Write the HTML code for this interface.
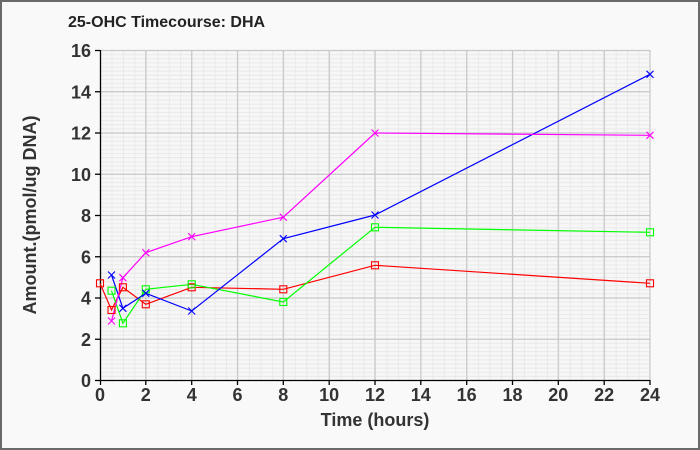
<!DOCTYPE html>
<html><head><meta charset="utf-8"><style>
html,body{margin:0;padding:0;background:#f9f9f9;}
svg{display:block;}
text{font-family:"Liberation Sans",Arial,sans-serif;font-weight:bold;}
</style></head><body>
<svg width="700" height="450" viewBox="0 0 700 450" xmlns="http://www.w3.org/2000/svg">
<defs>
<pattern id="minor" patternUnits="userSpaceOnUse" x="100" y="50" width="22.917" height="20.625">
<rect width="22.917" height="20.625" fill="#f7f7f7"/>
<g stroke="#e9e9e9" stroke-width="1" fill="none">
<line x1="0" y1="0.5" x2="22.917" y2="0.5"/>
<line x1="0" y1="4.6" x2="22.917" y2="4.6"/>
<line x1="0" y1="8.75" x2="22.917" y2="8.75"/>
<line x1="0" y1="12.9" x2="22.917" y2="12.9"/>
<line x1="0" y1="17" x2="22.917" y2="17"/>
<line x1="0.5" y1="0" x2="0.5" y2="20.625"/>
<line x1="11.96" y1="0" x2="11.96" y2="20.625"/>
</g>
</pattern>
</defs>
<rect x="0" y="0" width="700" height="450" fill="#f9f9f9"/>
<rect x="1" y="1" width="698" height="448" fill="none" stroke="#6a6a6a" stroke-width="2"/>
<text x="68" y="27" font-size="16" fill="#222">25-OHC Timecourse: DHA</text>
<rect x="100" y="50" width="550" height="330" fill="url(#minor)"/>
<g stroke="#c8c8c8" stroke-width="1.2" fill="none">
<line x1="145.8" y1="50" x2="145.8" y2="380"/>
<line x1="191.7" y1="50" x2="191.7" y2="380"/>
<line x1="237.5" y1="50" x2="237.5" y2="380"/>
<line x1="283.3" y1="50" x2="283.3" y2="380"/>
<line x1="329.2" y1="50" x2="329.2" y2="380"/>
<line x1="375" y1="50" x2="375" y2="380"/>
<line x1="420.8" y1="50" x2="420.8" y2="380"/>
<line x1="466.7" y1="50" x2="466.7" y2="380"/>
<line x1="512.5" y1="50" x2="512.5" y2="380"/>
<line x1="558.3" y1="50" x2="558.3" y2="380"/>
<line x1="604.2" y1="50" x2="604.2" y2="380"/>
<line x1="650" y1="50" x2="650" y2="380"/>
<line x1="100" y1="50.5" x2="650" y2="50.5"/>
<line x1="100" y1="91.75" x2="650" y2="91.75"/>
<line x1="100" y1="133" x2="650" y2="133"/>
<line x1="100" y1="174.25" x2="650" y2="174.25"/>
<line x1="100" y1="215.5" x2="650" y2="215.5"/>
<line x1="100" y1="256.75" x2="650" y2="256.75"/>
<line x1="100" y1="298" x2="650" y2="298"/>
<line x1="100" y1="339.25" x2="650" y2="339.25"/>
</g>
<g stroke="#000" stroke-width="1.3" fill="none">
<line x1="100.5" y1="50" x2="100.5" y2="380.5"/>
<line x1="100" y1="380.5" x2="650" y2="380.5"/>
<line x1="95" y1="50.5" x2="100" y2="50.5"/>
<line x1="95" y1="91.75" x2="100" y2="91.75"/>
<line x1="95" y1="133" x2="100" y2="133"/>
<line x1="95" y1="174.25" x2="100" y2="174.25"/>
<line x1="95" y1="215.5" x2="100" y2="215.5"/>
<line x1="95" y1="256.75" x2="100" y2="256.75"/>
<line x1="95" y1="298" x2="100" y2="298"/>
<line x1="95" y1="339.25" x2="100" y2="339.25"/>
<line x1="95" y1="380.5" x2="100" y2="380.5"/>
<line x1="100.5" y1="380" x2="100.5" y2="385"/>
<line x1="145.8" y1="380" x2="145.8" y2="385"/>
<line x1="191.7" y1="380" x2="191.7" y2="385"/>
<line x1="237.5" y1="380" x2="237.5" y2="385"/>
<line x1="283.3" y1="380" x2="283.3" y2="385"/>
<line x1="329.2" y1="380" x2="329.2" y2="385"/>
<line x1="375" y1="380" x2="375" y2="385"/>
<line x1="420.8" y1="380" x2="420.8" y2="385"/>
<line x1="466.7" y1="380" x2="466.7" y2="385"/>
<line x1="512.5" y1="380" x2="512.5" y2="385"/>
<line x1="558.3" y1="380" x2="558.3" y2="385"/>
<line x1="604.2" y1="380" x2="604.2" y2="385"/>
<line x1="650" y1="380" x2="650" y2="385"/>
</g>
<g font-size="18" fill="#333" text-anchor="end">
<text x="91" y="57">16</text>
<text x="91" y="98.25">14</text>
<text x="91" y="139.5">12</text>
<text x="91" y="180.75">10</text>
<text x="91" y="222">8</text>
<text x="91" y="263.25">6</text>
<text x="91" y="304.5">4</text>
<text x="91" y="345.75">2</text>
<text x="91" y="387">0</text>
</g>
<g font-size="18" fill="#333" text-anchor="middle">
<text x="100" y="401">0</text>
<text x="145.8" y="401">2</text>
<text x="191.7" y="401">4</text>
<text x="237.5" y="401">6</text>
<text x="283.3" y="401">8</text>
<text x="329.2" y="401">10</text>
<text x="375" y="401">12</text>
<text x="420.8" y="401">14</text>
<text x="466.7" y="401">16</text>
<text x="512.5" y="401">18</text>
<text x="558.3" y="401">20</text>
<text x="604.2" y="401">22</text>
<text x="650" y="401">24</text>
<text x="375" y="426">Time (hours)</text>
<text x="0" y="0" transform="translate(36,215) rotate(-90)">Amount.(pmol/ug DNA)</text>
</g>
<!-- series -->
<g fill="none" stroke-width="1.2">
<polyline stroke="#ff0000" points="100,283.3 111.5,310 122.9,287.3 145.8,304.3 191.7,287.3 283.3,289.3 375,265.3 650,283.3"/>
<polyline stroke="#00ff00" points="111.5,290.7 122.9,323.3 145.8,289.3 191.7,284.3 283.3,302 375,227.3 650,232.3"/>
<polyline stroke="#0000ff" points="111.5,275 122.9,308.3 145.8,293.3 191.7,311 283.3,238.7 375,215 650,74.3"/>
<polyline stroke="#ff00ff" points="111.5,321 122.9,277.7 145.8,252.7 191.7,236.7 283.3,217.2 375,133 650,135.3"/>
</g>
<g fill="none" stroke="#ff0000" stroke-width="1.1">
<rect x="96.5" y="279.8" width="7" height="7"/>
<rect x="108" y="306.5" width="7" height="7"/>
<rect x="119.4" y="283.8" width="7" height="7"/>
<rect x="142.3" y="300.8" width="7" height="7"/>
<rect x="188.2" y="283.8" width="7" height="7"/>
<rect x="279.8" y="285.8" width="7" height="7"/>
<rect x="371.5" y="261.8" width="7" height="7"/>
<rect x="646.5" y="279.8" width="7" height="7"/>
</g>
<g fill="none" stroke="#00ff00" stroke-width="1.1">
<rect x="108" y="287.2" width="7" height="7"/>
<rect x="119.4" y="319.8" width="7" height="7"/>
<rect x="142.3" y="285.8" width="7" height="7"/>
<rect x="188.2" y="280.8" width="7" height="7"/>
<rect x="279.8" y="298.5" width="7" height="7"/>
<rect x="371.5" y="223.8" width="7" height="7"/>
<rect x="646.5" y="228.8" width="7" height="7"/>
</g>
<g fill="none" stroke="#0000ff" stroke-width="1.1">
<path d="M108,271.5l7,7M115,271.5l-7,7"/>
<path d="M119.4,304.8l7,7M126.4,304.8l-7,7"/>
<path d="M142.3,289.8l7,7M149.3,289.8l-7,7"/>
<path d="M188.2,307.5l7,7M195.2,307.5l-7,7"/>
<path d="M279.8,235.2l7,7M286.8,235.2l-7,7"/>
<path d="M371.5,211.5l7,7M378.5,211.5l-7,7"/>
<path d="M646.5,70.8l7,7M653.5,70.8l-7,7"/>
</g>
<g fill="none" stroke="#ff00ff" stroke-width="1.1">
<path d="M108,317.5l7,7M115,317.5l-7,7"/>
<path d="M119.4,274.2l7,7M126.4,274.2l-7,7"/>
<path d="M142.3,249.2l7,7M149.3,249.2l-7,7"/>
<path d="M188.2,233.2l7,7M195.2,233.2l-7,7"/>
<path d="M279.8,213.7l7,7M286.8,213.7l-7,7"/>
<path d="M371.5,129.5l7,7M378.5,129.5l-7,7"/>
<path d="M646.5,131.8l7,7M653.5,131.8l-7,7"/>
</g>
</svg>
</body></html>
